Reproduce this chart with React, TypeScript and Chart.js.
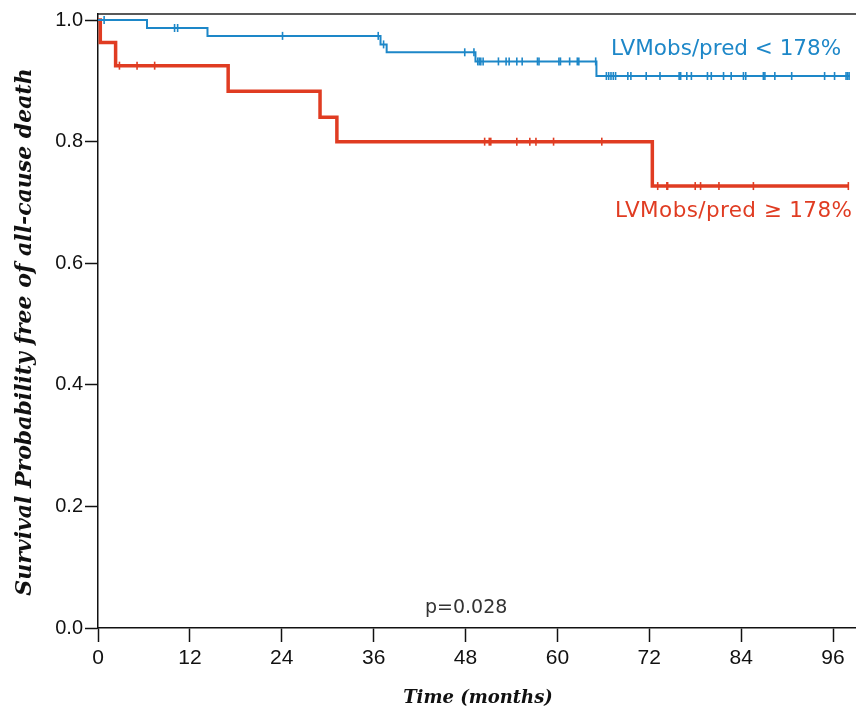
import React, { useEffect, useRef } from "react";
import { Chart, registerables } from "chart.js";

Chart.register(...registerables);

// ---- Data ----
const xTicks = [0, 12, 24, 36, 48, 60, 72, 84, 96];
const yTicks = [0, 0.2, 0.4, 0.6, 0.8, 1.0];

// Group LVMobs/pred < 178% (blue)
const blueEventTimes = [0, 6.4, 14.3, 36.9, 37.7, 49.3, 65.1];
const blueSurvival = [1.0, 0.987, 0.974, 0.96, 0.947, 0.932, 0.908];
const blueEndTime = 98.2;
const blueCensorTimes = [
  0.8, 10.0, 10.4, 24.1, 36.6, 37.3, 47.9, 49.1, 49.6, 49.8, 50.0, 50.3, 52.3,
  53.3, 53.7, 54.7, 55.4, 57.4, 57.6, 60.2, 60.4, 61.6, 62.6, 62.8, 65.0, 66.4,
  66.7, 67.0, 67.3, 67.6, 69.2, 69.6, 71.6, 73.4, 75.9, 76.1, 76.9, 77.5, 79.6,
  80.1, 81.7, 82.7, 84.3, 84.6, 86.9, 87.1, 88.4, 90.6, 94.9, 96.2, 97.7, 97.9,
  98.1,
];

// Group LVMobs/pred >= 178% (red)
const redEventTimes = [0, 0.3, 2.3, 17.0, 29.0, 31.2, 72.4];
const redSurvival = [1.0, 0.963, 0.925, 0.883, 0.84, 0.8, 0.727];
const redEndTime = 98.0;
const redCensorTimes = [
  2.8, 5.1, 7.4, 50.5, 51.1, 51.3, 54.7, 56.4, 57.2, 59.5, 65.8, 73.1, 74.3,
  74.4, 78.0, 78.7, 81.1, 85.6, 98.0,
];

const blueLabel = "LVMobs/pred < 178%";
const redLabel = "LVMobs/pred \u2265 178%";
const pValueText = "p=0.028";
const yTitle = "Survival Probability free of all-cause death";
const xTitle = "Time (months)";

const BLUE = "#1d87c8";
const RED = "#e03c22";

function stepPoints(times: number[], surv: number[], end: number) {
  const pts = times.map((t, i) => ({ x: t, y: surv[i] }));
  pts.push({ x: end, y: surv[surv.length - 1] });
  return pts;
}

function survAt(times: number[], surv: number[], t: number) {
  let s = surv[0];
  for (let i = 0; i < times.length; i++) {
    if (times[i] <= t) s = surv[i];
  }
  return s;
}

function censorPoints(censor: number[], times: number[], surv: number[]) {
  return censor.map((t) => ({ x: t, y: survAt(times, surv, t) }));
}

const overlayPlugin = {
  id: "overlay",
  afterDraw(chart: any) {
    const { ctx, chartArea } = chart;
    ctx.save();
    // top frame line
    ctx.strokeStyle = "#222";
    ctx.lineWidth = 1.5;
    ctx.beginPath();
    ctx.moveTo(chartArea.left, chartArea.top);
    ctx.lineTo(chartArea.right + 1, chartArea.top);
    ctx.stroke();

    // group labels
    ctx.font = '21.5px "DejaVu Sans"';
    ctx.textBaseline = "middle";
    ctx.textAlign = "left";
    ctx.fillStyle = BLUE;
    ctx.fillText(blueLabel, 611, 49);
    ctx.fillStyle = RED;
    (ctx as any).letterSpacing = "0.4px";
    ctx.fillText(redLabel, 615, 211);
    (ctx as any).letterSpacing = "0px";

    // p value
    ctx.font = '19px "DejaVu Sans"';
    ctx.fillStyle = "#333";
    ctx.textAlign = "left";
    ctx.fillText(pValueText, 425, 608);

    // axis titles
    ctx.fillStyle = "#111";
    ctx.font = 'italic bold 18px "DejaVu Serif"';
    ctx.textAlign = "center";
    ctx.fillText(xTitle, 478, 698);

    ctx.translate(25, 332);
    ctx.rotate(-Math.PI / 2);
    ctx.font = 'italic bold 22px "DejaVu Serif"';
    ctx.fillText(yTitle, 0, 0);
    ctx.restore();
  },
};

export default function App() {
  const ref = useRef<HTMLCanvasElement | null>(null);

  useEffect(() => {
    if (!ref.current) return;
    const chart = new Chart(ref.current, {
      type: "line",
      data: {
        datasets: [
          {
            type: "scatter",
            data: censorPoints(blueCensorTimes, blueEventTimes, blueSurvival),
            pointStyle: "line",
            rotation: 90,
            pointRadius: 4,
            borderColor: BLUE,
            backgroundColor: BLUE,
            pointBorderWidth: 1.6,
            showLine: false,
            clip: false,
          } as any,
          {
            data: stepPoints(blueEventTimes, blueSurvival, blueEndTime),
            stepped: "before",
            borderColor: BLUE,
            borderWidth: 2,
            pointRadius: 0,
            fill: false,
            clip: false,
          } as any,
          {
            type: "scatter",
            data: censorPoints(redCensorTimes, redEventTimes, redSurvival),
            pointStyle: "line",
            rotation: 90,
            pointRadius: 4,
            borderColor: RED,
            backgroundColor: RED,
            pointBorderWidth: 1.6,
            showLine: false,
            clip: false,
          } as any,
          {
            data: stepPoints(redEventTimes, redSurvival, redEndTime),
            stepped: "before",
            borderColor: RED,
            borderWidth: 3.5,
            pointRadius: 0,
            fill: false,
            clip: false,
          } as any,
        ],
      },
      options: {
        responsive: false,
        animation: false,
        layout: { autoPadding: false, padding: { top: 14, right: 1, left: 0, bottom: 0 } },
        plugins: {
          legend: { display: false },
          tooltip: { enabled: false },
        },
        scales: {
          x: {
            type: "linear",
            min: 0,
            max: 98.87,
            afterFit: (s: any) => {
              s.height = 85;
              s.paddingLeft = 0;
              s.paddingRight = 0;
            },
            afterBuildTicks: (s: any) => {
              s.ticks = xTicks.map((v) => ({ value: v }));
            },
            border: { display: true, color: "#111", width: 1.5 },
            grid: {
              drawOnChartArea: false,
              drawTicks: true,
              tickLength: 14,
              tickColor: "#111",
              tickWidth: 1.5,
            },
            ticks: {
              color: "#111",
              font: { family: '"Liberation Sans"', size: 21 },
              padding: 4,
              maxRotation: 0,
              autoSkip: false,
              callback: (v: any) => String(v),
            },
          },
          y: {
            type: "linear",
            min: 0,
            max: 1.01,
            afterFit: (s: any) => {
              s.width = 98;
              s.paddingTop = 0;
              s.paddingBottom = 0;
            },
            afterBuildTicks: (s: any) => {
              s.ticks = yTicks.map((v) => ({ value: v }));
            },
            border: { display: true, color: "#111", width: 1.5 },
            grid: {
              drawOnChartArea: false,
              drawTicks: true,
              tickLength: 13,
              tickColor: "#111",
              tickWidth: 1.5,
            },
            ticks: {
              color: "#111",
              font: { family: '"Liberation Sans"', size: 20 },
              padding: 2,
              autoSkip: false,
              callback: (v: any) => Number(v).toFixed(1),
            },
          },
        },
      },
      plugins: [overlayPlugin],
    });
    return () => chart.destroy();
  }, []);

  return (
    <div style={{ position: "absolute", left: 0, top: 0, width: 856, height: 713, background: "#fff" }}>
      <canvas ref={ref} width={856} height={713} />
    </div>
  );
}
